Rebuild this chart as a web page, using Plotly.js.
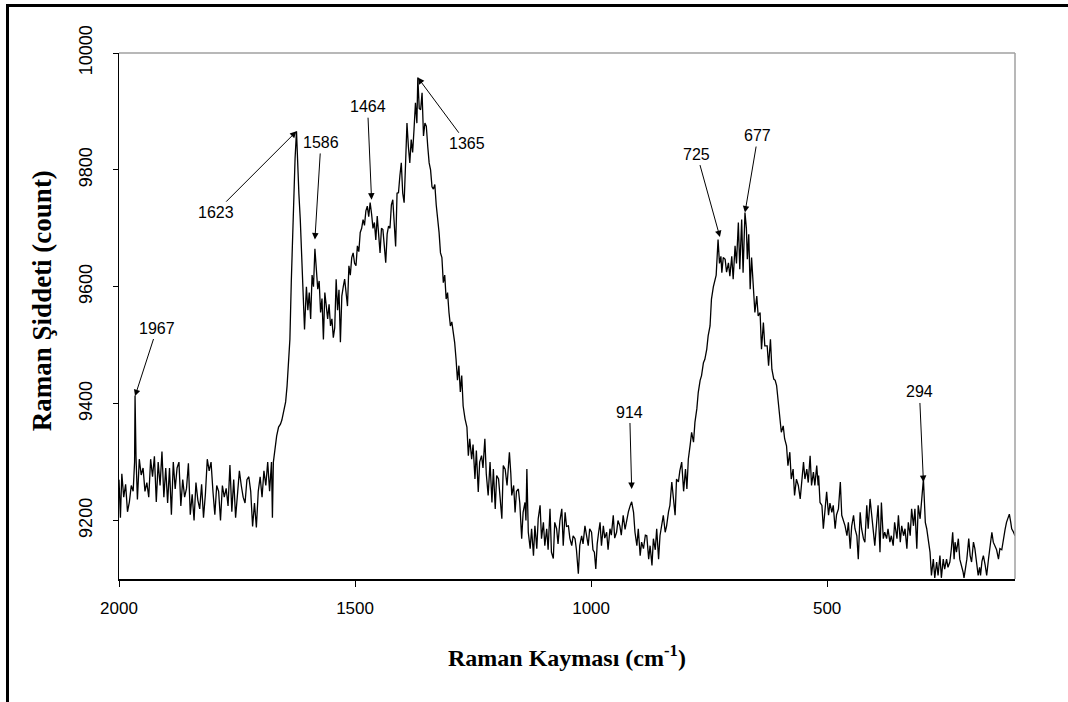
<!DOCTYPE html>
<html>
<head>
<meta charset="utf-8">
<script src="https://cdn.plot.ly/plotly-3.0.1.min.js"></script>
<style>
  html, body { margin: 0; padding: 0; background: #fff; }
  #chart { position: absolute; left: 0; top: 0; width: 1068px; height: 702px; }
  #frame { position: absolute; left: 6px; top: 4px; width: 1062px; height: 698px;
           border-left: 3px solid #000; border-top: 3px solid #000; pointer-events: none; box-sizing: border-box; }
</style>
</head>
<body>
<div id="chart"></div>
<div id="frame"></div>
<script>
// ---- Data: [Raman shift (cm-1), intensity (count)] ----
const segBaseline = [
  [2000,9270],[1997,9205],[1994,9280],[1990,9240],[1986,9262],[1982,9215],[1978,9232],[1974,9260],[1970,9250],[1967,9300],
  [1966,9414],[1964,9310],[1961,9236],[1957,9305],[1953,9278],[1949,9290],[1945,9250],[1941,9265],[1937,9240],[1933,9305],
  [1929,9275],[1925,9310],[1921,9232],[1917,9300],[1913,9260],[1909,9318],[1905,9240],[1901,9290],[1897,9230],[1893,9290],
  [1889,9210],[1885,9300],[1881,9254],[1877,9290],[1873,9300],[1869,9225],[1865,9270],[1861,9240],[1857,9255],[1853,9298],
  [1849,9210],[1845,9245],[1841,9200],[1837,9265],[1833,9235],[1829,9220],[1825,9262],[1821,9205],[1817,9245],[1813,9305],
  [1809,9285],[1805,9300],[1801,9250],[1797,9210],[1793,9260],[1789,9250],[1785,9200],[1781,9260],[1777,9240],[1773,9255],
  [1769,9225],[1765,9295],[1761,9215],[1757,9270],[1753,9205],[1749,9240],[1745,9285],[1741,9260],[1737,9240],[1733,9230],
  [1729,9270],[1725,9275],[1721,9250],[1717,9190],[1713,9230],[1709,9188],[1705,9250],[1701,9275],[1697,9240],[1693,9285],
  [1689,9260],[1685,9300],[1681,9250],[1677,9300],[1675,9205],[1673,9300]
];
const segRise1623 = [
  [1669,9330],[1666,9345],[1662,9360],[1658,9365],[1655,9372],[1651,9390],[1647,9403],[1644,9430],[1641,9470],[1638,9510],
  [1635,9610],[1632,9700],[1629,9780],[1627,9820],[1624,9866],[1622,9813],[1619,9760],[1616,9715],[1613,9640],[1610,9584],
  [1607,9527]
];
const segBand1365 = [
  [1603,9600],[1600,9560],[1597,9590],[1594,9545],[1591,9620],[1588,9600],[1585,9665],[1582,9630],[1579,9596],[1576,9610],
  [1573,9556],[1570,9580],[1567,9510],[1564,9590],[1561,9560],[1558,9545],[1555,9570],[1552,9533],[1549,9545],[1546,9513],
  [1543,9530],[1540,9613],[1537,9560],[1534,9595],[1531,9505],[1528,9584],[1525,9600],[1522,9613],[1519,9590],[1516,9567],
  [1513,9636],[1510,9620],[1507,9650],[1504,9658],[1501,9640],[1498,9636],[1495,9670],[1492,9660],[1489,9693],[1486,9700],
  [1483,9715],[1480,9705],[1477,9730],[1474,9738],[1471,9720],[1468,9744],[1465,9725],[1462,9700],[1459,9710],[1456,9680],
  [1453,9721],[1450,9690],[1447,9658],[1444,9700],[1441,9698],[1438,9670],[1435,9641],[1432,9690],[1429,9704],[1426,9700],
  [1423,9740],[1420,9749],[1417,9700],[1414,9669],[1411,9760],[1408,9761],[1405,9790],[1402,9812],[1399,9760],[1396,9744],
  [1393,9810],[1390,9880],[1387,9840],[1384,9812],[1381,9852],[1378,9830],[1375,9870],[1372,9915],[1369,9880],[1367,9958],
  [1364,9905],[1361,9903],[1358,9932],[1355,9858],[1352,9880],[1349,9875],[1346,9840],[1343,9812],[1340,9800],[1337,9771],
  [1334,9767],[1331,9775],[1328,9740],[1325,9720],[1322,9693],[1319,9658],[1316,9650],[1313,9607],[1310,9620],[1307,9579],
  [1304,9590],[1301,9556],[1298,9533],[1295,9540],[1292,9522],[1289,9505],[1286,9476],[1283,9440],[1280,9465],[1277,9420],
  [1274,9448],[1271,9396]
];
const segValley = [
  [1267,9374],[1263,9360],[1260,9311],[1257,9340],[1253,9305],[1250,9330],[1246,9271],[1243,9320],[1239,9249],[1236,9300],
  [1232,9311],[1229,9290],[1225,9340],[1222,9280],[1218,9243],[1214,9300],[1210,9231],[1207,9288],[1203,9220],[1200,9277],
  [1196,9271],[1193,9240],[1189,9203],[1186,9294],[1182,9288],[1178,9260],[1175,9300],[1173,9317],[1170,9280],[1168,9243],
  [1164,9260],[1161,9214],[1158,9250],[1154,9254],[1151,9230],[1147,9169],[1144,9214],[1140,9231],[1138,9200],[1136,9288],
  [1133,9180],[1129,9152],[1126,9186],[1122,9140],[1119,9191],[1115,9152],[1112,9203],[1108,9226],[1105,9169],[1101,9197],
  [1098,9157],[1094,9186],[1091,9150],[1087,9220],[1084,9146],[1080,9135],[1077,9197],[1073,9186],[1070,9160],[1066,9200],
  [1062,9220],[1059,9157],[1055,9214],[1052,9190],[1048,9191],[1045,9170],[1041,9157],[1038,9174],[1034,9169],[1031,9150],
  [1027,9109],[1024,9157],[1020,9174],[1017,9160],[1013,9191],[1010,9175],[1006,9157],[1003,9186],[999,9180],[996,9150],
  [993,9146],[990,9117],[987,9160],[984,9180],[981,9197],[978,9157],[974,9191],[971,9170],[967,9180],[964,9150],
  [960,9186],[957,9175],[953,9209],[950,9170],[946,9180],[943,9200],[939,9191],[936,9175],[932,9209],[928,9185],
  [924,9203],[921,9215],[917,9226],[914,9232],[910,9214],[907,9180],[903,9157]
];
const segBand700 = [
  [900,9186],[896,9140],[893,9163],[889,9152],[885,9175],[882,9174],[878,9134],[875,9157],[871,9123],[868,9169],
  [864,9150],[861,9186],[857,9134],[854,9174],[850,9200],[847,9209],[843,9180],[840,9191],[836,9215],[833,9226],
  [829,9266],[826,9240],[822,9209],[819,9271],[815,9266],[812,9285],[808,9300],[804,9250],[800,9288],[797,9254],
  [794,9305],[790,9330],[787,9351],[783,9334],[780,9368],[776,9391],[773,9419],[769,9440],[766,9448],[762,9470],
  [759,9476],[755,9493],[752,9516],[748,9533],[745,9579],[741,9600],[738,9613],[735,9620],[731,9681],[728,9640],
  [725,9652],[723,9624],[720,9650],[716,9647],[713,9625],[709,9641],[706,9618],[702,9652],[699,9613],[695,9670],
  [692,9640],[688,9710],[685,9630],[681,9715],[678,9624],[675,9700],[674,9727],[671,9700],[669,9647],[666,9690],
  [663,9596],[660,9650],[656,9590],[653,9556],[649,9584],[646,9550],[642,9556],[639,9493],[635,9539],[632,9499],
  [627,9499],[624,9465],[620,9510],[617,9459],[613,9442],[610,9440],[607,9431],[603,9400],[600,9385],[597,9351],
  [593,9362],[590,9340],[586,9328],[583,9294],[579,9317],[576,9271],[572,9288],[569,9243],[565,9271],[561,9260],
  [557,9237],[553,9280],[550,9300],[547,9271],[543,9288],[540,9265],[536,9311],[533,9260],[529,9283],[526,9260],
  [522,9294],[519,9260]
];
const segTail = [
  [518,9277],[515,9231],[511,9226],[508,9186],[504,9220],[501,9249],[497,9209],[494,9230],[490,9214],[487,9226],
  [483,9186],[480,9210],[476,9220],[472,9266],[469,9209],[465,9197],[462,9191],[458,9174],[455,9197],[451,9152],
  [448,9190],[444,9209],[441,9186],[437,9174],[434,9134],[430,9214],[427,9186],[423,9169],[420,9163],[416,9226],
  [413,9186],[409,9237],[406,9209],[402,9174],[399,9157],[395,9197],[392,9226],[388,9146],[385,9231],[381,9169],
  [378,9180],[374,9169],[371,9186],[367,9163],[364,9174],[360,9157],[357,9197],[352,9169],[349,9209],[345,9163],
  [342,9191],[338,9174],[335,9186],[331,9152],[328,9197],[324,9174],[321,9220],[317,9191],[314,9220],[310,9152],
  [307,9226],[303,9203],[300,9240],[296,9271],[292,9197],[289,9186],[285,9163],[282,9146],[279,9106],[275,9134],
  [272,9102],[268,9129],[265,9106],[261,9140],[258,9102],[254,9134],[251,9117],[247,9134],[244,9120],[240,9129],
  [237,9150],[234,9180],[231,9134],[229,9163],[226,9146],[222,9169],[219,9134],[215,9123],[212,9112],[210,9102],
  [207,9120],[204,9134],[200,9169],[197,9140],[194,9129],[190,9163],[187,9152],[183,9123],[180,9106],[177,9120],
  [175,9106],[172,9130],[169,9140],[165,9123],[162,9106],[158,9135],[155,9152],[151,9180],[148,9163],[144,9157],
  [141,9150],[137,9134],[134,9152],[130,9150],[127,9169],[123,9185],[120,9197],[117,9205],[114,9211],[111,9197],
  [109,9186],[105,9180],[102,9174]
];

// Peak labels and the point each arrow points at
const peakLabels = ["1967", "1623", "1586", "1464", "1365", "914", "725", "677", "294"];
const peakShift  = [1966, 1624, 1585, 1465, 1367, 914, 727, 674, 296];
const peakCount  = [9413, 9866, 9681, 9749, 9958, 9254, 9685, 9727, 9266];

const xTickVals = [2000, 1500, 1000, 500];
const yTickVals = [9200, 9400, 9600, 9800, 10000];
const xTitle = 'Raman Kayması (cm<sup>-1</sup>)';
const yTitle = 'Raman Şiddeti (count)';

// ---- build ----
const allPts = [].concat(segBaseline, segRise1623, segBand1365, segValley, segBand700, segTail);
const xs = allPts.map(p => p[0]);
const ys = allPts.map(p => p[1]);

// text offsets (pixels) of each label from its arrow tip
const labelOffsets = [[22,-68],[-81,81],[6,-97],[-4,-93],[49,66],[-2,-77],[-23,-83],[13,-77],[-4,-90]];

const annotations = peakLabels.map((t, i) => ({
  x: peakShift[i], y: peakCount[i], xref: 'x', yref: 'y',
  text: t, showarrow: true,
  ax: labelOffsets[i][0], ay: labelOffsets[i][1],
  arrowhead: 2, arrowsize: 1.3, arrowwidth: 1, arrowcolor: '#000',
  standoff: 0, startstandoff: 1,
  font: {family: 'Liberation Sans, Arial, sans-serif', size: 16, color: '#000'}
}));

// y-axis title placed as a rotated annotation (its centre sits a little above the plot centre)
annotations.push({
  xref: 'paper', yref: 'paper', x: -0.086, y: 0.53,
  xanchor: 'center', yanchor: 'middle', textangle: -90,
  text: '<b>' + yTitle + '</b>', showarrow: false,
  font: {family: 'Liberation Serif, Times New Roman, serif', size: 27, color: '#000'}
});

const trace = {
  x: xs, y: ys, type: 'scatter', mode: 'lines',
  line: {color: '#000', width: 1.3},
  hoverinfo: 'skip'
};

const layout = {
  width: 1068, height: 702,
  margin: {l: 119, r: 53, t: 53, b: 123, pad: 0},
  paper_bgcolor: '#fff', plot_bgcolor: '#fff',
  showlegend: false,
  xaxis: {
    range: [2000, 102], autorange: false,
    tickvals: xTickVals, ticktext: xTickVals.map(String),
    ticks: 'outside', ticklen: 6, tickwidth: 1, tickcolor: '#000',
    showline: true, linecolor: '#000', linewidth: 1.5,
    showgrid: false, zeroline: false, automargin: false,
    ticklabelstandoff: 7,
    tickfont: {family: 'Liberation Sans Narrow, Arial Narrow, sans-serif', size: 17, color: '#000'},
    title: {text: xTitle, standoff: 32,
            font: {family: 'Liberation Serif, Times New Roman, serif', size: 24, color: '#000', weight: 'bold'}}
  },
  yaxis: {
    range: [9100, 10000], autorange: false,
    tickvals: yTickVals, ticktext: yTickVals.map(String),
    tickangle: -90,
    ticks: 'outside', ticklen: 5, tickwidth: 1, tickcolor: '#000',
    showline: true, linecolor: '#000', linewidth: 1.5,
    showgrid: false, zeroline: false, automargin: false,
    ticklabelstandoff: 13,
    tickfont: {family: 'Liberation Sans Narrow, Arial Narrow, sans-serif', size: 18, color: '#000'}
  },
  shapes: [
    {type: 'line', xref: 'paper', yref: 'paper', x0: 0, x1: 1, y0: 1, y1: 1, line: {color: '#a0a0a0', width: 1.5}},
    {type: 'line', xref: 'paper', yref: 'paper', x0: 1, x1: 1, y0: 0, y1: 1, line: {color: '#a0a0a0', width: 1.5}}
  ],
  annotations: annotations
};

Plotly.newPlot('chart', [trace], layout, {staticPlot: true, displayModeBar: false});
</script>
</body>
</html>
